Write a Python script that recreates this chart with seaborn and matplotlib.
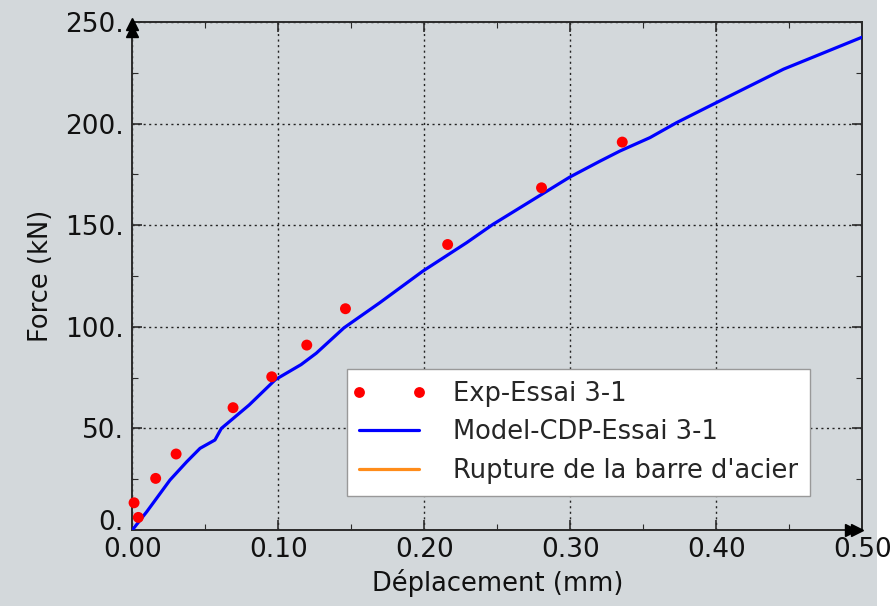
import matplotlib
matplotlib.use("Agg")
import matplotlib.pyplot as plt
from matplotlib.lines import Line2D
from matplotlib.legend_handler import HandlerLine2D
from matplotlib.patches import Rectangle
import numpy as np
import pandas as pd
import seaborn as sns

# Experimental measurements (Essai 3-1)
exp_disp = [0.0012, 0.0041, 0.016, 0.030, 0.069, 0.0955, 0.1195, 0.146, 0.216, 0.2803, 0.3356]
exp_force = [13.4, 6.2, 25.4, 37.4, 60.2, 75.4, 91.0, 108.9, 140.5, 168.4, 190.9]

# CDP model curve
model_disp = [0.0, 0.0099, 0.0258, 0.0373, 0.0464, 0.0566, 0.061, 0.080, 0.098, 0.1156, 0.126,
              0.145, 0.1694, 0.199, 0.229, 0.247, 0.2997, 0.3203, 0.334, 0.3546, 0.3729,
              0.4003, 0.4461, 0.4998]
model_force = [0.0, 9.0, 24.6, 33.6, 40.2, 44.3, 50.0, 61.5, 74.0, 81.4, 87.0,
               99.5, 111.8, 127.4, 141.4, 150.4, 173.7, 181.5, 186.5, 193.1, 200.5,
               210.4, 226.8, 242.5]

x_ticks = [0.0, 0.1, 0.2, 0.3, 0.4, 0.5]
x_tick_labels = ["0.00", "0.10", "0.20", "0.30", "0.40", "0.50"]
y_ticks = [0, 50, 100, 150, 200, 250]
y_tick_labels = ["0.", "50.", "100.", "150.", "200.", "250."]

legend_labels = ["Exp-Essai 3-1", "Model-CDP-Essai 3-1", "Rupture de la barre d'acier"]

BG = "#d3d8db"
EDGE = "#2b2b2b"

sns.set_theme(style="ticks")
plt.rcParams["font.family"] = ["DejaVu Sans"]

fig = plt.figure(figsize=(8.94, 6.06), dpi=100, facecolor=BG)
ax = fig.add_axes([0.148, 0.1254, 0.8165, 0.8383])
ax.set_facecolor(BG)
fig.patches.append(Rectangle((0.981, 0), 0.019, 1, transform=fig.transFigure,
                             facecolor="white", edgecolor="none", zorder=-1))

exp_df = pd.DataFrame({"disp": exp_disp, "force": exp_force})
model_df = pd.DataFrame({"disp": model_disp, "force": model_force})

sns.lineplot(data=model_df, x="disp", y="force", ax=ax, color="#0000ff", lw=2.3,
             sort=False, estimator=None, zorder=3)
sns.scatterplot(data=exp_df, x="disp", y="force", ax=ax, color="#ff0000", s=62,
                edgecolor="none", zorder=4, clip_on=False)

ax.set_xlim(0, 0.5)
ax.set_ylim(0, 250)
ax.set_xticks(x_ticks)
ax.set_xticklabels(x_tick_labels)
ax.set_yticks(y_ticks)
ax.set_yticklabels(y_tick_labels)
ax.set_xticks(np.arange(0.05, 0.5, 0.1), minor=True)
ax.set_yticks(np.arange(25, 250, 50), minor=True)
ax.get_yticklabels()[0].set_va("baseline")

ax.grid(True, which="major", linestyle=(0, (1.5, 2.5)), color="#222222", lw=1.0)
ax.tick_params(which="both", direction="in", top=True, right=True, color=EDGE,
               labelsize=19, labelcolor="#111111")
ax.tick_params(which="major", length=7, width=1.2)
ax.tick_params(which="minor", length=4, width=0.8)
ax.tick_params(axis="x", pad=5)
ax.tick_params(axis="y", pad=6)
for sp in ax.spines.values():
    sp.set_color(EDGE)
    sp.set_linewidth(1.4)

ax.set_xlabel("Déplacement (mm)", fontsize=18.5, color="#111111", labelpad=4)
ax.set_ylabel("Force (kN)", fontsize=18.5, color="#111111", labelpad=8)

# axis-end arrow heads
ax.plot([0, 0], [0.9955, 0.983], transform=ax.transAxes, ls="none", marker="^",
        ms=8.5, color="black", clip_on=False, zorder=6)
ax.plot([0.984, 0.993], [0, 0], transform=ax.transAxes, ls="none", marker=">",
        ms=8.5, color="black", clip_on=False, zorder=6)

handles = [
    Line2D([], [], ls="none", marker="o", ms=7.8, color="#ff0000", markeredgecolor="none"),
    Line2D([], [], color="#0000ff", lw=2.3),
    Line2D([], [], color="#ff8c1a", lw=2.3),
]
leg = ax.legend(handles, legend_labels, loc="lower left", bbox_to_anchor=(0.2945, 0.0669),
                borderaxespad=0, numpoints=2, fontsize=18.5, frameon=True, fancybox=False,
                handlelength=2.35, handletextpad=1.3, labelspacing=0.5, borderpad=0.46,
                handler_map={Line2D: HandlerLine2D(marker_pad=0)})
leg.get_frame().set_facecolor("white")
leg.get_frame().set_edgecolor("#999999")
leg.get_frame().set_alpha(1)
leg.set_zorder(10)

fig.savefig("out.png", dpi=100, facecolor=BG)
